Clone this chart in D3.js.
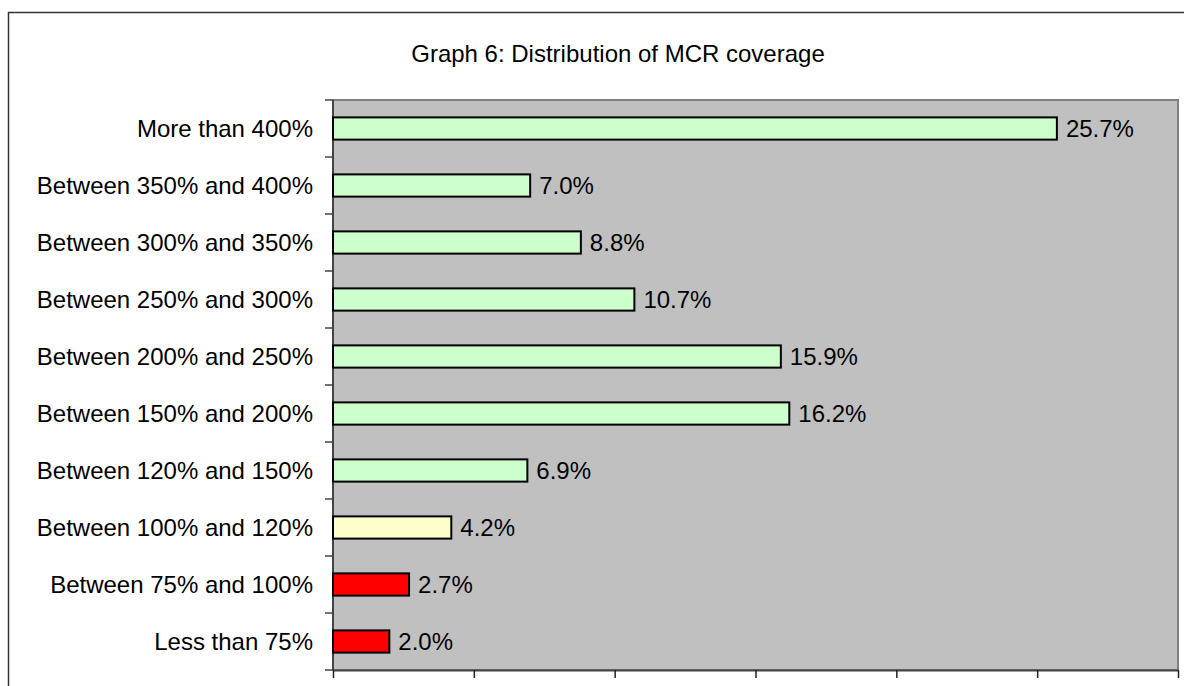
<!DOCTYPE html>
<html>
<head>
<meta charset="utf-8">
<script src="https://cdn.jsdelivr.net/npm/d3@7"></script>
<style>
  body { margin: 0; background: #fff; }
  svg { display: block; font-family: "Liberation Sans", Arial, sans-serif; }
</style>
</head>
<body>
<svg width="1184" height="686"></svg>
<script>
// categories, top to bottom as drawn
var categories = ["More than 400%", "Between 350% and 400%", "Between 300% and 350%",
    "Between 250% and 300%", "Between 200% and 250%", "Between 150% and 200%",
    "Between 120% and 150%", "Between 100% and 120%", "Between 75% and 100%", "Less than 75%"];
var shares = [25.7, 7.0, 8.8, 10.7, 15.9, 16.2, 6.9, 4.2, 2.7, 2.0];
var xTicks = [0, 5, 10, 15, 20, 25, 30];
var title = "Graph 6: Distribution of MCR coverage";

var svg = d3.select("svg");

// outer chart frame (runs off the right/bottom of the picture)
svg.append("path")
    .attr("d", "M8.5,700V12.5H1200")
    .attr("fill", "none")
    .attr("stroke", "#333")
    .attr("stroke-width", 1.5);

svg.append("text")
    .attr("x", 618)
    .attr("y", 62)
    .attr("text-anchor", "middle")
    .style("font-size", "24px")
    .text(title);

var plotL = 333, plotR = 1178, plotT = 100, plotB = 670;

var x = d3.scaleLinear().domain([0, 30]).range([plotL, plotR]);
var y = d3.scaleBand().domain(categories).range([plotT, plotB]).paddingInner(0.61).paddingOuter(0.305);
var yEdges = d3.scaleBand().domain(categories).range([plotT, plotB]);

var fill = d3.scaleOrdinal()
    .domain(categories)
    .range(["#ccffcc", "#ccffcc", "#ccffcc", "#ccffcc", "#ccffcc", "#ccffcc", "#ccffcc",
            "#ffffcc", "#ff0000", "#ff0000"]);

// plot area
svg.append("rect")
    .attr("x", plotL).attr("y", plotT)
    .attr("width", plotR - plotL).attr("height", plotB - plotT)
    .attr("fill", "#c0c0c0")
    .attr("stroke", "#808080")
    .attr("stroke-width", 2);

// bottom axis, ticks only (labels fall off the picture)
svg.append("g")
    .attr("transform", "translate(0," + plotB + ")")
    .call(d3.axisBottom(x).tickValues(xTicks).tickSize(8).tickFormat("").tickSizeOuter(0))
    .call(function (g) {
        g.select(".domain").attr("stroke", "#444").attr("stroke-width", 2);
        g.selectAll(".tick line").attr("stroke", "#222").attr("stroke-width", 1.5);
    });

// left axis: tick marks at band edges
var edges = categories.map(function (c) { return yEdges(c); }).concat([plotB]);
svg.append("g")
    .selectAll("line")
    .data(edges)
    .enter().append("line")
    .attr("x1", plotL - 8).attr("x2", plotL)
    .attr("y1", function (d) { return d; })
    .attr("y2", function (d) { return d; })
    .attr("stroke", "#444")
    .attr("stroke-width", 1.5);
svg.append("line")
    .attr("x1", plotL).attr("x2", plotL)
    .attr("y1", plotT).attr("y2", plotB)
    .attr("stroke", "#444")
    .attr("stroke-width", 2);

// category labels
svg.append("g")
    .selectAll("text")
    .data(categories)
    .enter().append("text")
    .attr("x", plotL - 20)
    .attr("y", function (d) { return yEdges(d) + yEdges.bandwidth() / 2; })
    .attr("dy", "0.36em")
    .attr("text-anchor", "end")
    .style("font-size", "24px")
    .text(function (d) { return d; });

// bars
svg.append("g")
    .selectAll("rect")
    .data(shares)
    .enter().append("rect")
    .attr("x", x(0))
    .attr("y", function (d, i) { return y(categories[i]); })
    .attr("width", function (d) { return x(d) - x(0); })
    .attr("height", y.bandwidth())
    .attr("fill", function (d, i) { return fill(categories[i]); })
    .attr("stroke", "#000")
    .attr("stroke-width", 2);

// value labels
svg.append("g")
    .selectAll("text")
    .data(shares)
    .enter().append("text")
    .attr("x", function (d) { return x(d) + 9; })
    .attr("y", function (d, i) { return y(categories[i]) + y.bandwidth() / 2; })
    .attr("dy", "0.36em")
    .style("font-size", "24px")
    .text(function (d) { return d.toFixed(1) + "%"; });
</script>
</body>
</html>
